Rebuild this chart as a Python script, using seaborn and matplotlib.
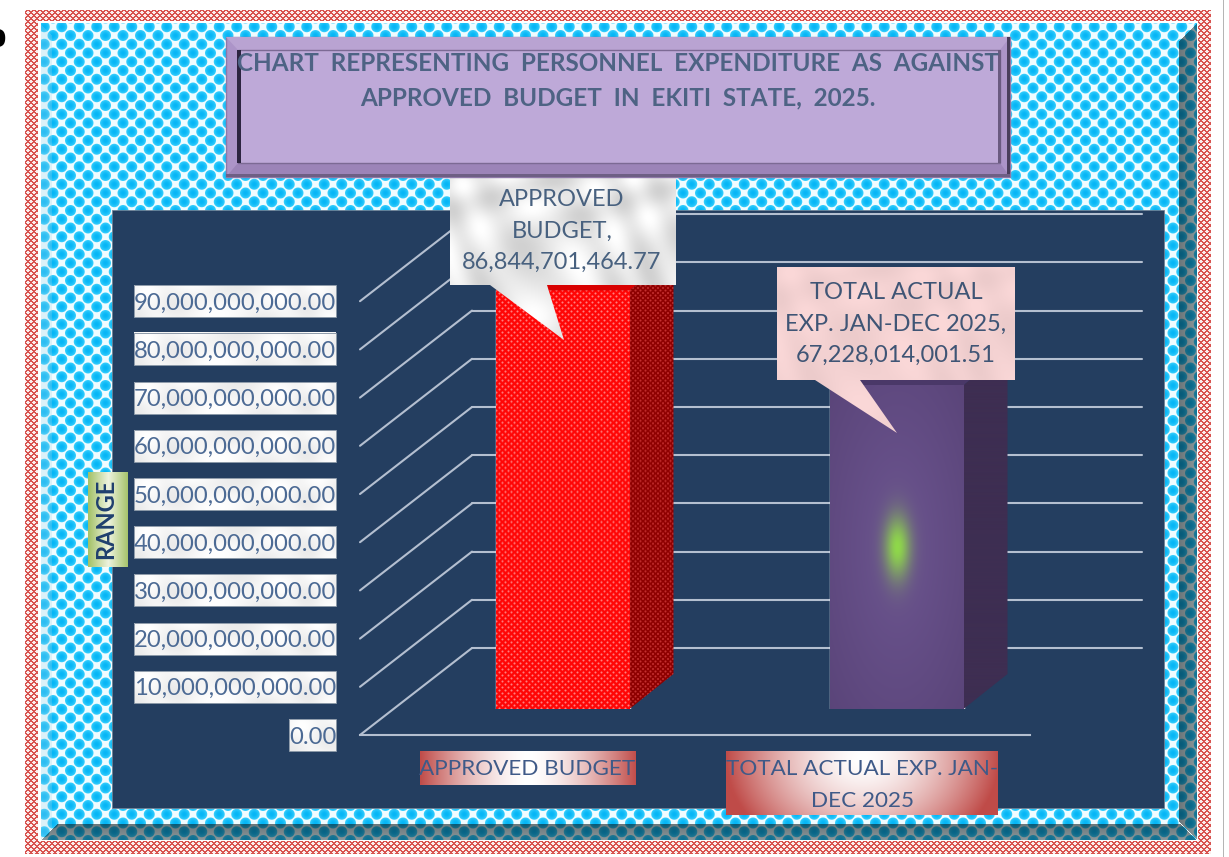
import numpy as np
import pandas as pd
import matplotlib
matplotlib.use("Agg")
import matplotlib.pyplot as plt
import seaborn as sns
from matplotlib.patches import ConnectionPatch, Polygon, Rectangle
from matplotlib.transforms import IdentityTransform

# chart values
categories = ["APPROVED BUDGET", "TOTAL ACTUAL EXP. JAN-\nDEC 2025"]
values = [86844701464.77, 67228014001.51]
y_ticks = [0, 10e9, 20e9, 30e9, 40e9, 50e9, 60e9, 70e9, 80e9, 90e9]
callout_names = ["APPROVED\nBUDGET,", "TOTAL ACTUAL\nEXP. JAN-DEC 2025,"]
title_lines = ["CHART  REPRESENTING  PERSONNEL  EXPENDITURE  AS  AGAINST",
               "APPROVED  BUDGET  IN  EKITI  STATE,  2025."]

W, H = 1229, 857
NAVY = "#243E60"
TXT = "#4C6A94"

sns.set_theme(style="white")
plt.rcParams["font.family"] = ["Lato", "DejaVu Sans"]

fig = plt.figure(figsize=(W / 100, H / 100), dpi=100, facecolor="white")


def px_axes(x0, x1, y0, ytop, zorder):
    ax = fig.add_axes([x0 / W, 1 - y0 / H, (x1 - x0) / W, (y0 - ytop) / H], zorder=zorder)
    ax.patch.set_alpha(0)
    return ax


def hex_rgb(c):
    return np.array(matplotlib.colors.to_rgb(c))


def marble(h, w, tint="#FFFFFF", low=0.82):
    # soft cloudy texture from a few sine waves
    yy, xx = np.mgrid[0:h, 0:w]
    n = (np.sin(xx / 23 + yy / 11 + 2 * np.sin(yy / 31)) + np.sin(xx / 9 - yy / 17 + 1.3 * np.sin(xx / 29))) / 2
    v = low + (1 - low) * (n + 1) / 2
    return v[..., None] * hex_rgb(tint)


def background():
    yy, xx = np.mgrid[0:H, 0:W].astype(float)
    p, q = 17.5, 8.75
    d1 = np.hypot(xx % p - p / 2, yy % (2 * q) - q)
    d2 = np.hypot((xx + p / 2) % p - p / 2, (yy + q) % (2 * q) - q)
    d = np.minimum(d1, d2)
    k = np.clip(6.0 - d, 0, 1)[..., None]
    shade = np.clip(d / 6.0, 0, 1)[..., None] ** 2
    bubble = hex_rgb("#06B6F6") * (1 - shade) + hex_rgb("#48D6FF") * shade
    img = k * bubble + (1 - k) * hex_rgb("#F0FCFF")

    # bevels of the cyan panel
    right = (xx > 1178) & (yy - 22 > 1197 - xx) & (840 - yy > 1197 - xx)
    bottom = (yy > 823) & (840 - yy < xx - 40) & (840 - yy < 1197 - xx)
    left = (xx < 52) & (yy - 23 > xx - 40) & (840 - yy > xx - 40)
    ramp = np.clip((xx - 1178) / 19, 0, 1)[..., None]
    dark = img * (0.42 + 0.14 * ramp) + hex_rgb("#2C5F70") * 0.12
    img = np.where(right[..., None], dark, img)
    ramp = np.clip((yy - 823) / 17, 0, 1)[..., None]
    dark = img * (0.42 + 0.14 * ramp) + hex_rgb("#2C5F70") * 0.12
    img = np.where(bottom[..., None], dark, img)
    img[left] = img[left] * 0.75 + 0.25 * hex_rgb("#9FD0E6")

    # red cross stitch border
    m = 6
    stitch = ((xx + yy) % m < 2) | ((xx - yy) % m < 2)
    outer = (xx >= 25) & (xx < 1211) & (yy >= 10) & (yy < 854)
    inner = (xx >= 38) & (xx < 1198) & (yy >= 21) & (yy < 841)
    panel = (xx >= 41) & (xx < 1197) & (yy >= 23) & (yy < 840)
    out = np.ones((H, W, 3))
    out[panel] = img[panel]
    band = outer & ~inner
    out[band & stitch] = hex_rgb("#D8534F")
    out[band & ~stitch] = hex_rgb("#FBEDEC")
    out[:, 1223] = hex_rgb("#B5B5B5")
    return out


bg = px_axes(0, W, H, 0, 0)
bg.imshow(background(), extent=(0, W, H, 0), aspect="auto", interpolation="bilinear")
bg.add_patch(Rectangle((112, 210), 1052, 598, facecolor=NAVY, edgecolor="#6F8296", lw=0.6))

# three planes of the fake 3d chart: same scale, shifted by depth
ax_back = px_axes(472, 1142, 648, 648 - 482, 1)
ax_front = px_axes(360, 1030, 735, 735 - 482, 2)
ax_bar = px_axes(395.5, 1063.5, 709, 709 - 482, 3)
for a in (ax_back, ax_front, ax_bar):
    a.set_xlim(-0.5, 1.5)
    a.set_ylim(0, 100e9)

# back wall gridlines
ax_back.set_yticks(y_ticks)
ax_back.grid(axis="y", color="#B4BFD0", lw=1.5)
ax_back.tick_params(left=False, labelleft=False, bottom=False, labelbottom=False)
for ln in ax_back.get_ygridlines():
    ln.set_clip_on(False)
sns.despine(ax=ax_back, left=True, bottom=True)

# floor and wall diagonals
for v in y_ticks:
    fig.add_artist(ConnectionPatch(xyA=(-0.5, v), coordsA=ax_front.transData, xyB=(-0.5, v), coordsB=ax_back.transData,
                                   color="#B4BFD0", lw=1.5, zorder=1.5))

# bars
df = pd.DataFrame({"name": categories, "value": values})
sns.barplot(data=df, x="name", y="value", hue="name", palette=["#FF1010", "#5E4A7E"], width=134 / 334,
            legend=False, ax=ax_bar, saturation=1)
ax_bar.set_xlim(-0.5, 1.5)
ax_bar.set_ylim(0, 100e9)
ax_bar.axis("off")


def dots(h, w, base, dot, period=5.0):
    yy, xx = np.mgrid[0:h, 0:w].astype(float)
    d1 = np.hypot(xx % period - period / 2, yy % period - period / 2)
    d2 = np.hypot((xx + period / 2) % period - period / 2, (yy + period / 2) % period - period / 2)
    k = np.clip(1.5 - np.minimum(d1, d2), 0, 1)[..., None] * 0.6
    return (1 - k) * hex_rgb(base) + k * hex_rgb(dot)


def purple(h, w):
    yy, xx = np.mgrid[0:h, 0:w].astype(float)
    u, v = (xx - w / 2) / w, (yy - h / 2) / h
    edge = np.clip(np.hypot(u, v), 0, 1)[..., None]
    base = hex_rgb("#6C5590") * (1 - edge) + hex_rgb("#533E70") * edge
    g = np.exp(-((xx - w / 2) / 13) ** 2 - ((yy - h / 2) / 31) ** 2)[..., None]
    return (1 - g) * base + g * hex_rgb("#8FD84A")


depth = (44, 35)
for i, bar in enumerate(ax_bar.patches):
    x0, x1 = bar.get_x(), bar.get_x() + bar.get_width()
    top = bar.get_height()
    a0 = ax_bar.transData.transform((x0, 0))
    a1 = ax_bar.transData.transform((x1, top))
    w_px, h_px = int(a1[0] - a0[0]), int(a1[1] - a0[1])
    if i == 0:
        front = dots(h_px, w_px, "#FF0606", "#FFD0D0", 6.0)
        side = dots(h_px + depth[1], depth[0], "#8E0000", "#E85050", 5.0)
        top_c = "#D80000"
    else:
        front = purple(h_px, w_px)
        side = np.ones((h_px + depth[1], depth[0], 3)) * hex_rgb("#3E2E52")
        top_c = "#4A3868"
    ax_bar.imshow(front, extent=(x0, x1, 0, top), aspect="auto", zorder=3)
    # side and top faces in display coordinates
    sx = np.array([a1[0], a1[0] + depth[0], a1[0] + depth[0], a1[0]])
    sy = np.array([a1[1], a1[1] + depth[1], a0[1] + depth[1], a0[1]])
    side_poly = Polygon(np.c_[sx, sy], transform=IdentityTransform(), facecolor="none", edgecolor="none")
    ax_bar.add_patch(side_poly)
    dx = (x1 - x0) * depth[0] / w_px
    dv = top * depth[1] / h_px
    im = ax_bar.imshow(side, extent=(x1, x1 + dx, 0, top + dv), aspect="auto", zorder=3)
    im.set_clip_path(side_poly)
    ax_bar.add_patch(Polygon([[a0[0], a1[1]], [a1[0], a1[1]], [a1[0] + depth[0], a1[1] + depth[1]],
                              [a0[0] + depth[0], a1[1] + depth[1]]], transform=IdentityTransform(),
                             facecolor=top_c, edgecolor="none", zorder=3))
ax_bar.set_xlim(-0.5, 1.5)
ax_bar.set_ylim(0, 100e9)

# front plane carries the axes text
sns.barplot(x=categories, y=[0, 0], ax=ax_front, color="none")
ax_front.set_xlim(-0.5, 1.5)
ax_front.set_ylim(0, 100e9)
ax_front.set_yticks(y_ticks)
ax_front.set_yticklabels([f"{v:,.2f}" for v in y_ticks], fontsize=17.2, color=TXT)
ax_front.set_xticks([0, 1])
ax_front.set_xticklabels(categories, fontsize=16.2, color="#3F5A88", linespacing=1.76)
ax_front.tick_params(axis="y", left=False, pad=11)
ax_front.tick_params(axis="x", bottom=False, pad=11.5)
ax_front.set_xlabel("")
ax_front.set_ylabel("RANGE", fontsize=17, fontweight="bold", color="#1F3F6E")
ax_front.yaxis.set_label_coords((117 - 360) / 670, 216 / 482)
for s in ("top", "right", "left"):
    ax_front.spines[s].set_visible(False)
ax_front.spines["bottom"].set_color("#B4BFD0")
ax_front.spines["bottom"].set_linewidth(1.5)

# marble plates behind the value labels
for v in y_ticks:
    yc = H - ax_front.transData.transform((0, v))[1]
    x0 = 289 if v == 0 else 134
    bg.imshow(marble(32, 336 - x0, low=0.92), extent=(x0, 336, yc + 16, yc - 16), aspect="auto", zorder=3)
    bg.add_patch(Rectangle((x0, yc - 16), 336 - x0, 32, facecolor="none", edgecolor="#8E9BAA", lw=0.7, zorder=3))


# gradient plates behind the category labels
def plate(x0, x1, y0, y1, vweight, vcentre):
    h, w = y1 - y0, x1 - x0
    yy, xx = np.mgrid[0:h, 0:w].astype(float)
    u, v = (xx - w / 2) / (w / 2), (yy - h * vcentre) / h
    t = np.clip(np.hypot(u, v * vweight), 0, 1)[..., None] ** 1.6
    return (1 - t) * np.ones(3) + t * hex_rgb("#C04C49")


bg.imshow(plate(420, 636, 751, 785, 0.0, 0.5), extent=(420, 636, 785, 751), aspect="auto", zorder=3)
bg.imshow(plate(726, 998, 751, 815, 0.6, 0.1), extent=(726, 998, 815, 751), aspect="auto", zorder=3)

# axis title plate
yy_r, xx_r = np.mgrid[0:95, 0:40].astype(float)
t_r = np.abs(xx_r - 20)[..., None] / 20
bg_r = (1 - t_r) * hex_rgb("#EEF3DE") + t_r * hex_rgb("#A4C268")
bg.imshow(bg_r, extent=(88, 128, 567, 472), aspect="auto", zorder=3)
bg.set_xlim(0, W)
bg.set_ylim(H, 0)
bg.axis("off")

# overlay: title box and callouts
top = px_axes(0, W, H, 0, 4)
top.add_patch(Rectangle((226, 37), 784, 140, facecolor="#AC94C8", edgecolor="#8E78A8", lw=1))
top.add_patch(Polygon([[226, 37], [1010, 37], [1000, 50], [238, 50]], facecolor="#B9A3D2", edgecolor="none"))
top.add_patch(Polygon([[226, 177], [1010, 177], [1000, 163], [238, 163]], facecolor="#9C84B8", edgecolor="none"))
top.add_patch(Rectangle((238, 50), 762, 113, facecolor="#BEA9D8", edgecolor="#7C6A94", lw=1))
top.add_patch(Rectangle((237, 50), 4, 113, facecolor="#2C2440", edgecolor="none"))
top.add_patch(Rectangle((998, 50), 3, 113, facecolor="#6A5A80", edgecolor="none"))
top.add_patch(Rectangle((1007, 37), 3, 140, facecolor="#4A3E5C", edgecolor="none"))
top.add_patch(Rectangle((226, 174), 784, 3, facecolor="#6E5F84", edgecolor="none"))
top.text(618, 63, title_lines[0], ha="center", va="center", fontsize=17.5, fontweight="bold", color="#4E6384")
top.text(618, 98, title_lines[1], ha="center", va="center", fontsize=17.5, fontweight="bold", color="#4E6384")

call_1 = Polygon([[450, 178], [676, 178], [676, 285], [547, 285], [564, 340], [490, 285], [450, 285]],
                 facecolor="none", edgecolor="none")
call_2 = Polygon([[777, 267], [1015, 267], [1015, 380], [860, 380], [897, 433], [815, 380], [777, 380]],
                 facecolor="none", edgecolor="none")
top.add_patch(call_1)
top.add_patch(call_2)
im1 = top.imshow(marble(162, 226, low=0.82), extent=(450, 676, 340, 178), aspect="auto")
im1.set_clip_path(call_1)
im2 = top.imshow(marble(166, 238, tint="#FBD8D8", low=0.94), extent=(777, 1015, 433, 267), aspect="auto")
im2.set_clip_path(call_2)
top.text(562, 231, f"{callout_names[0]}\n{values[0]:,.2f}", ha="center", va="center", fontsize=17,
         color="#48617F", linespacing=1.6)
top.text(896, 324, f"{callout_names[1]}\n{values[1]:,.2f}", ha="center", va="center", fontsize=17,
         color="#3F5575", linespacing=1.6)
top.text(-3, 37, "o", ha="center", va="center", fontsize=27, fontweight="bold", color="black",
         family="Liberation Serif", clip_on=False)
top.set_xlim(0, W)
top.set_ylim(H, 0)
top.axis("off")

fig.savefig("out.png", dpi=100)
